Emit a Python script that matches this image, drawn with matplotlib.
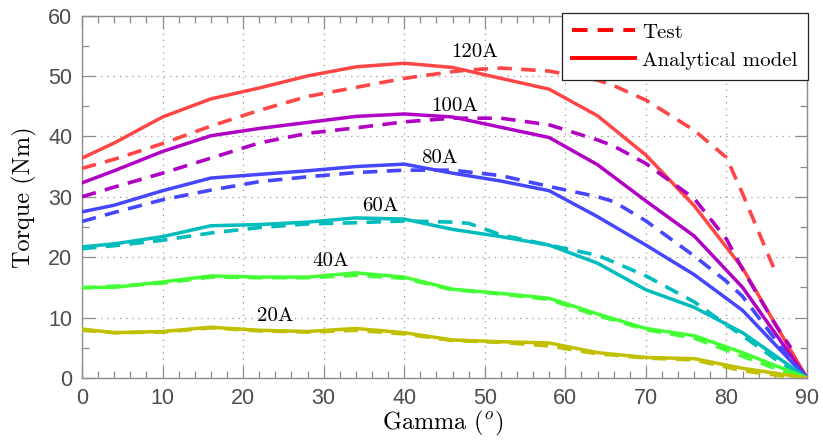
import numpy as np
import matplotlib
matplotlib.use("Agg")
import matplotlib.pyplot as plt
from matplotlib.lines import Line2D
from matplotlib.ticker import MultipleLocator

plt.rcParams["mathtext.fontset"] = "cm"

# Current angle gamma (degrees) for the analytical model
gamma_model = [0, 4, 10, 16, 22, 28, 34, 40, 46, 52, 58, 64, 70, 76, 82, 90]
# Analytical torque (Nm) per phase current
a120 = [36.4, 38.9, 43.2, 46.2, 48.0, 50.0, 51.5, 52.1, 51.4, 49.6, 47.8, 43.4, 36.9, 28.5, 18.2, 0.0]
a100 = [32.3, 34.3, 37.5, 40.1, 41.3, 42.3, 43.3, 43.7, 43.2, 41.5, 39.8, 35.3, 29.3, 23.5, 15.0, 0.0]
a80 = [27.5, 28.6, 31.0, 33.1, 33.7, 34.3, 35.0, 35.4, 33.9, 32.6, 31.0, 26.7, 22.0, 17.1, 11.2, 0.0]
a60 = [21.7, 22.2, 23.4, 25.2, 25.4, 25.8, 26.5, 26.3, 24.6, 23.4, 22.0, 19.0, 14.6, 11.7, 7.5, 0.0]
a40 = [15.0, 15.0, 15.9, 16.9, 16.7, 16.7, 17.4, 16.7, 14.7, 14.0, 13.2, 10.6, 8.2, 7.0, 4.2, 0.0]
a20 = [8.1, 7.5, 7.7, 8.4, 7.9, 7.7, 8.2, 7.5, 6.3, 6.0, 5.8, 4.2, 3.4, 3.2, 1.6, 0.0]

# Measured torque (Nm); nan where no measurement was taken
gamma_test = [0, 4, 10, 16, 22, 28, 34, 40, 46, 48, 52, 58, 64, 66, 70, 76, 80, 82, 86, 88, 90]
nan = np.nan
t120 = [34.7, 36.2, 38.8, 41.7, 44.3, 46.6, 48.1, 49.6, 50.7, 51.0, 51.3, 50.8, 49.3, 48.4, 46.0, 41.0, 36.5, 30.5, 17.8, nan, nan]
t100 = [30.0, 31.6, 33.9, 36.4, 38.9, 40.5, 41.4, 42.4, 43.0, 43.0, 43.0, 41.9, 39.4, 38.4, 35.5, 29.7, 23.0, 18.0, 9.0, 5.0, nan]
t80 = [25.9, 27.4, 29.5, 31.1, 32.5, 33.3, 34.0, 34.4, 34.4, 34.1, 33.5, 31.7, 30.0, 29.2, 26.0, 20.2, 16.0, 13.5, 6.5, 3.0, 0.0]
t60 = [21.4, 21.9, 22.8, 24.0, 24.9, 25.5, 25.7, 26.0, 25.8, 25.6, 23.7, 22.0, 20.3, 19.2, 16.9, 12.6, 8.8, 7.0, 3.2, 1.5, 0.0]
t40 = [14.9, 15.2, 15.7, 16.7, 16.6, 16.6, 17.0, 16.5, 14.6, 14.4, 13.9, 13.0, 10.3, 9.6, 8.0, 6.6, 4.6, 3.6, 1.6, 0.8, 0.0]
t20 = [7.9, 7.5, 7.6, 8.3, 7.8, 7.6, 7.9, 7.3, 6.2, 6.1, 5.9, 5.3, 4.0, 3.8, 3.3, 3.0, 1.8, 1.2, 0.5, 0.2, 0.0]

currents = ["120A", "100A", "80A", "60A", "40A", "20A"]
model_series = [a120, a100, a80, a60, a40, a20]
test_series = [t120, t100, t80, t60, t40, t20]
colors = ["#ff4545", "#b000c4", "#4646ff", "#00bcbc", "#44ff36", "#c0c000"]
# Where each current label is written (gamma, torque)
label_gamma = [48.8, 46.3, 44.4, 37.0, 30.9, 24.0]
label_torque = [54.0, 45.0, 36.4, 28.5, 19.4, 10.3]

fig = plt.figure(figsize=(8.23, 4.47), dpi=100)
ax = fig.add_axes([82 / 823, 1 - 378 / 447, 725 / 823, 362.5 / 447])

dash = (0, (4.0, 2.6))
for ys, yt, c in zip(model_series, test_series, colors):
    ax.plot(gamma_test, yt, color=c, lw=2.6, linestyle=dash, zorder=3)
    ax.plot(gamma_model, ys, color=c, lw=2.5, zorder=3)

serif = "cmr10"
for name, gx, gy in zip(currents, label_gamma, label_torque):
    ax.text(gx, gy, name, ha="center", va="center", fontsize=15, family=serif, zorder=5)

ax.set_xlim(0, 90)
ax.set_ylim(0, 60)
ax.xaxis.set_major_locator(MultipleLocator(10))
ax.xaxis.set_minor_locator(MultipleLocator(2))
ax.yaxis.set_major_locator(MultipleLocator(10))
ax.yaxis.set_minor_locator(MultipleLocator(5))
ax.grid(True, which="major", linestyle=(0, (1, 4)), color="#999999", lw=0.9)

spine_c = "#8c8c8c"
for s in ax.spines.values():
    s.set_color(spine_c)
    s.set_linewidth(1.0)
ax.tick_params(which="both", direction="in", top=True, right=True, color=spine_c, width=0.9)
ax.tick_params(which="major", length=9, pad=7, labelsize=15.5, labelcolor="#4d4d4d")
ax.tick_params(which="minor", length=5)
for lab in ax.get_xticklabels() + ax.get_yticklabels():
    lab.set_family("Liberation Sans")

ax.set_xlabel(r"Gamma ($^o$)", fontsize=17.5, family=serif)
ax.set_ylabel("Torque (Nm)", fontsize=17.5, family=serif)
ax.xaxis.set_label_coords(0.498, -0.085)
ax.yaxis.set_label_coords(-0.062, 0.5)

handles = [
    Line2D([], [], color="#ff0000", lw=2.8, linestyle=(0, (4.0, 2.6))),
    Line2D([], [], color="#ff0000", lw=2.8),
]
leg = fig.legend(handles, ["Test", "Analytical model"], loc="upper right",
                 bbox_to_anchor=(808 / 823, 1 - 12.7 / 447), borderaxespad=0,
                 prop={"family": serif, "size": 15}, frameon=True, fancybox=False,
                 handlelength=3.0, handletextpad=0.35, labelspacing=0.45,
                 borderpad=0.5)
leg.get_frame().set_edgecolor("#222222")
leg.get_frame().set_linewidth(0.9)
leg.get_frame().set_alpha(1)

fig.savefig("out.png", dpi=100)
